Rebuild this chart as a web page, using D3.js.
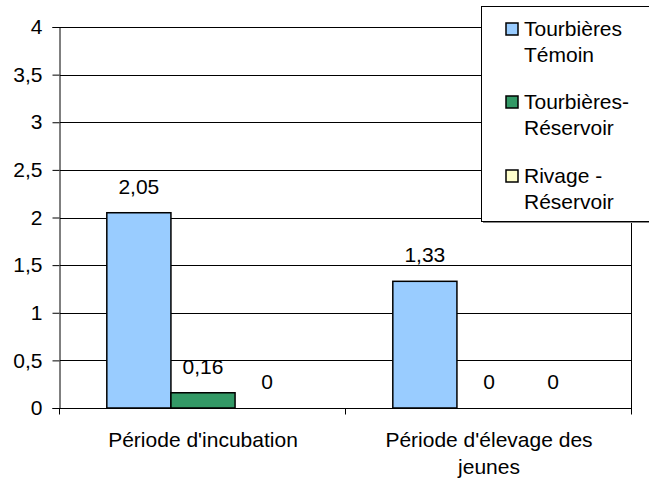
<!DOCTYPE html>
<html>
<head>
<meta charset="utf-8">
<script src="https://cdn.jsdelivr.net/npm/d3@7"></script>
<style>
  body { margin: 0; background: #fff; }
  svg { display: block; font-family: "Liberation Sans", Arial, sans-serif; }
</style>
</head>
<body>
<svg id="chart" width="649" height="479"></svg>
<script>
// données du graphique
const categories = ["Période d'incubation", "Période d'élevage des jeunes"];
const categoryLines = [["Période d'incubation"], ["Période d'élevage des", "jeunes"]];
const series = ["Tourbières Témoin", "Tourbières-Réservoir", "Rivage - Réservoir"];
const seriesLines = [["Tourbières", "Témoin"], ["Tourbières-", "Réservoir"], ["Rivage -", "Réservoir"]];
const temoin = [2.05, 1.33];
const tourbRes = [0.16, 0];
const rivageRes = [0, 0];
const yTicks = [0, 0.5, 1, 1.5, 2, 2.5, 3, 3.5, 4];
const colors = ["#99CCFF", "#339966", "#FFFFCC"];

const values = [temoin, tourbRes, rivageRes];
const fs = 21;
const plot = {left: 60, right: 632, top: 27, bottom: 408};

const svg = d3.select("#chart");

const y = d3.scaleLinear().domain([0, 4]).range([plot.bottom, plot.top]);
const x0 = d3.scaleBand().domain(categories).range([plot.left, plot.right]);
const x1 = d3.scaleBand().domain(series).range([0, x0.bandwidth()]).paddingOuter(0.73);

const fmt = v => String(v).replace(".", ",");

// grille
svg.append("g")
  .selectAll("line")
  .data(yTicks)
  .join("line")
  .attr("x1", plot.left)
  .attr("x2", plot.right)
  .attr("y1", d => Math.round(y(d)) + 0.5)
  .attr("y2", d => Math.round(y(d)) + 0.5)
  .attr("stroke", "#000")
  .attr("stroke-width", 1);

// bordure droite de la zone
svg.append("line")
  .attr("x1", plot.right - 0.5).attr("x2", plot.right - 0.5)
  .attr("y1", plot.top).attr("y2", plot.bottom)
  .attr("stroke", "#000");

// axe Y
const yAxis = svg.append("g")
  .attr("transform", `translate(${plot.left - 0.5},0)`)
  .call(d3.axisLeft(y).tickValues(yTicks).tickFormat(fmt).tickSize(7).tickPadding(10));
yAxis.select(".domain").attr("stroke", "#000");
yAxis.selectAll(".tick text").attr("font-size", fs).attr("font-family", "'Liberation Sans', Arial, sans-serif").attr("fill", "#000");

// axe X
const xAxis = svg.append("g")
  .attr("transform", `translate(0,${Math.round(plot.bottom) + 0.5})`);
xAxis.append("line")
  .attr("x1", plot.left).attr("x2", plot.right)
  .attr("stroke", "#000");
const xTicks = [plot.left, x0(categories[1]), plot.right];
xAxis.selectAll(".xt")
  .data(xTicks)
  .join("line")
  .attr("class", "xt")
  .attr("x1", d => Math.round(d) - 0.5)
  .attr("x2", d => Math.round(d) - 0.5)
  .attr("y1", 0).attr("y2", 6)
  .attr("stroke", "#000");

categories.forEach((c, i) => {
  const t = svg.append("text")
    .attr("x", x0(c) + x0.bandwidth() / 2)
    .attr("y", 447)
    .attr("text-anchor", "middle")
    .attr("font-size", fs)
    .attr("fill", "#000");
  categoryLines[i].forEach((line, j) => {
    t.append("tspan")
      .attr("x", x0(c) + x0.bandwidth() / 2)
      .attr("dy", j === 0 ? 0 : 27)
      .text(line);
  });
});

// barres
series.forEach((s, si) => {
  const g = svg.append("g");
  g.selectAll("rect")
    .data(categories.map((c, ci) => ({c, v: values[si][ci]})))
    .join("rect")
    .attr("x", d => x0(d.c) + x1(s))
    .attr("y", d => y(d.v))
    .attr("width", x1.bandwidth())
    .attr("height", d => y(0) - y(d.v))
    .attr("fill", colors[si])
    .attr("stroke", "#000")
    .attr("stroke-width", d => d.v > 0 ? 1.5 : 0);
  g.selectAll("text")
    .data(categories.map((c, ci) => ({c, v: values[si][ci]})))
    .join("text")
    .attr("x", d => x0(d.c) + x1(s) + x1.bandwidth() / 2)
    .attr("y", d => y(d.v) - 19)
    .attr("text-anchor", "middle")
    .attr("font-size", fs)
    .attr("fill", "#000")
    .text(d => fmt(d.v));
});

// légende
const leg = svg.append("g");
leg.append("rect")
  .attr("x", 483).attr("y", 9)
  .attr("width", 170).attr("height", 214)
  .attr("fill", "#888");
leg.append("rect")
  .attr("x", 481.5).attr("y", 6.5)
  .attr("width", 170).attr("height", 215)
  .attr("fill", "#fff")
  .attr("stroke", "#000");
const legY = [29, 102, 176];
seriesLines.forEach((lines, i) => {
  leg.append("rect")
    .attr("x", 506).attr("y", legY[i] - 6)
    .attr("width", 12).attr("height", 12)
    .attr("fill", colors[i])
    .attr("stroke", "#000")
    .attr("stroke-width", 1.5);
  const t = leg.append("text")
    .attr("x", 524)
    .attr("y", legY[i] + 7)
    .attr("font-size", fs)
    .attr("fill", "#000");
  lines.forEach((line, j) => {
    t.append("tspan")
      .attr("x", 524)
      .attr("dy", j === 0 ? 0 : 26)
      .text(line);
  });
});
</script>
</body>
</html>
